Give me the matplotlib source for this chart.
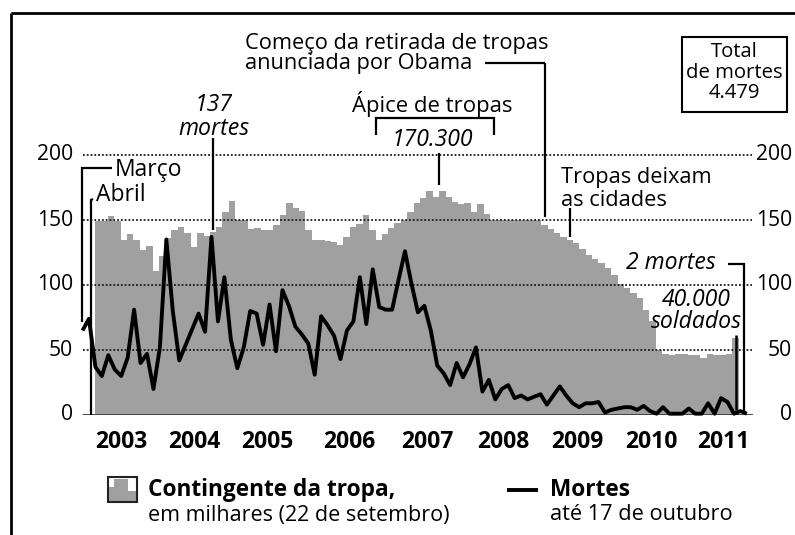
import matplotlib
matplotlib.use('Agg')
import matplotlib.pyplot as plt
from matplotlib.lines import Line2D
from matplotlib.patches import Rectangle, Polygon
import numpy as np

plt.rcParams['font.family'] = ['Open Sans', 'DejaVu Sans']

# ---------------- data ----------------
years = ['2003', '2004', '2005', '2006', '2007', '2008', '2009', '2010', '2011']
yticks = [0, 50, 100, 150, 200]

# US troops in Iraq (thousands), monthly from April 2003
troops = [149, 149, 153, 149, 135, 139, 135, 127, 130, 111, 122, 136, 142, 145, 140, 129, 140, 138, 141, 145,
          156, 165, 150, 150, 143, 144, 142, 142, 146, 154, 163, 159, 157, 142, 135, 135, 134, 133, 131, 137,
          145, 147, 154, 142, 135, 139, 144, 148, 150, 156, 163, 167, 172, 168, 172, 168, 164, 162, 163, 156,
          162, 155, 150, 150, 150, 150, 150, 150, 150, 150, 146, 143, 140, 137, 135, 132, 128, 123, 120, 117,
          113, 108, 101, 98, 94, 90, 81, 72, 50, 47, 46, 47, 47, 46, 46, 44, 47, 46, 46, 47, 59]

# US deaths, monthly from March 2003
deaths = [65, 74, 37, 30, 46, 35, 30, 44, 81, 40,
          47, 20, 52, 135, 80, 42, 54, 66, 78, 64, 137, 72,
          106, 58, 36, 52, 80, 78, 54, 85, 49, 96, 84, 68,
          62, 55, 31, 76, 69, 61, 43, 65, 72, 106, 70, 112,
          83, 81, 81, 104, 126, 101, 79, 84, 65, 38, 32, 23,
          40, 29, 39, 52, 18, 27, 12, 20, 23, 13, 15, 12,
          14, 16, 8, 15, 22, 15, 9, 6, 9, 9, 10, 2,
          4, 5, 6, 6, 4, 7, 3, 1, 6, 1, 1, 1,
          5, 1, 1, 9, 1, 13, 10, 1, 3, 1]

# ---------------- layout helpers ----------------
W, H = 795, 535
fig = plt.figure(figsize=(W / 100, H / 100), dpi=100)
X0, SX = 82.5, 6.45          # pixel of first month, pixels per month
BASE, SY = 415, 1.3          # pixel of zero, pixels per unit

def dx(px):
    return (px - X0) / SX

def dy(py):
    return (BASE - py) / SY

ax = fig.add_axes([80 / W, (H - 415) / H, (753 - 80) / W, (415 - 25) / H])
ax.set_xlim(dx(80), dx(753))
ax.set_ylim(0, dy(25))
ax.axis('off')

GRAY = '#a0a0a0'
FS = 15.7
FI = 16.6
FB = 16.3

# bars
step = 6.37 / SX
bar_left = dx(95) + step * np.arange(len(troops))
ax.bar(bar_left, troops, width=step * 1.04, align='edge', color=GRAY, linewidth=0, zorder=1)

# grid
for v in yticks[1:]:
    ax.plot([dx(83), dx(752)], [v, v], color='#1a1a1a', lw=1.3, ls=(0, (1, 1.1)), zorder=3)
# baseline
ax.plot([dx(82), dx(753)], [0, 0], color='#3a3a3a', lw=2.0, zorder=5, solid_capstyle='butt')

# deaths line
ax.plot(np.arange(len(deaths)), deaths, color='black', lw=2.8, zorder=6,
        solid_joinstyle='round', solid_capstyle='butt', clip_on=False)

def T(px, py, s, **kw):
    kw.setdefault('fontsize', FS)
    kw.setdefault('va', 'center')
    kw.setdefault('ha', 'left')
    fig.text(px / W, 1 - py / H, s, **kw)

def L(xs, ys, lw=1.6, **kw):
    fig.add_artist(Line2D([x / W for x in xs], [1 - y / H for y in ys], color='black', lw=lw,
                          solid_capstyle='butt', solid_joinstyle='miter', **kw))

# tick labels
for v in yticks:
    py = BASE - v * SY
    T(73, py, str(v), ha='right', fontsize=15.2)
    T(792, py, str(v), ha='right', fontsize=15.2)

year_px = [121, 194, 267, 349, 427, 503, 577, 651, 723]
for px, y in zip(year_px, years):
    T(px, 442, y, ha='center', fontweight='bold', fontsize=16.5)

# frame
L([11, 795], [13, 13], lw=2.0)
L([11, 11], [13, 535], lw=2.0)

# annotations
T(245, 43, 'Começo da retirada de tropas')
T(245, 63, 'anunciada por Obama')
L([485, 545], [63, 63]); L([545, 545], [63, 217])

T(432, 104, 'Ápice de tropas', ha='center', fontsize=15.9)
L([376, 376, 494, 494], [135, 118, 118, 135])
T(432, 140, '170.300', ha='center', style='italic', fontsize=FI)
L([439, 439], [153, 185])

T(214, 117, '137\nmortes', ha='center', multialignment='center', style='italic',
  fontsize=FI, linespacing=0.98)
L([213, 213], [138, 230])

L([112, 82, 82], [168, 168, 322])
T(115, 170, 'Março', fontsize=16.5)
L([93, 91, 91], [199, 200, 415])
T(96, 195, 'Abril', fontsize=16.5)

T(561, 177, 'Tropas deixam')
T(561, 200, 'as cidades')
L([570, 570], [208, 237])

T(716, 263, '2 mortes', ha='right', style='italic', fontsize=FI)
L([728, 744, 744], [264, 264, 413])
T(696, 300, '40.000', ha='center', style='italic', fontsize=FI)
T(696, 322, 'soldados', ha='center', style='italic', fontsize=FI)
L([736, 736], [335, 410], lw=1.8)

fig.add_artist(Rectangle((682 / W, 1 - 112 / H), (787 - 682) / W, (112 - 37) / H, fill=False,
                         lw=1.5, edgecolor='black', transform=fig.transFigure))
T(734, 52, 'Total', ha='center', fontsize=14.6)
T(734, 73, 'de mortes', ha='center', fontsize=14.6)
T(734, 93, '4.479', ha='center', fontsize=14.6)

# legend
icon = [(109, 501), (109, 487), (114, 487), (114, 479), (128, 479), (128, 491), (136, 491), (136, 501)]
fig.add_artist(Polygon([(x / W, 1 - y / H) for x, y in icon], closed=True, facecolor=GRAY,
                       edgecolor='none', transform=fig.transFigure))
fig.add_artist(Rectangle((108 / W, 1 - 502 / H), 29 / W, 25 / H, fill=False, lw=1.5,
                         edgecolor='#222222', transform=fig.transFigure))
T(148, 490, 'Contingente da tropa,', fontweight='bold', fontsize=FB)
T(148, 515, 'em milhares (22 de setembro)', fontsize=15.5)
L([507, 538], [490, 490], lw=2.8)
T(550, 490, 'Mortes', fontweight='bold', fontsize=FB)
T(550, 515, 'até 17 de outubro', fontsize=15.7)

fig.savefig('out.png', dpi=100)
